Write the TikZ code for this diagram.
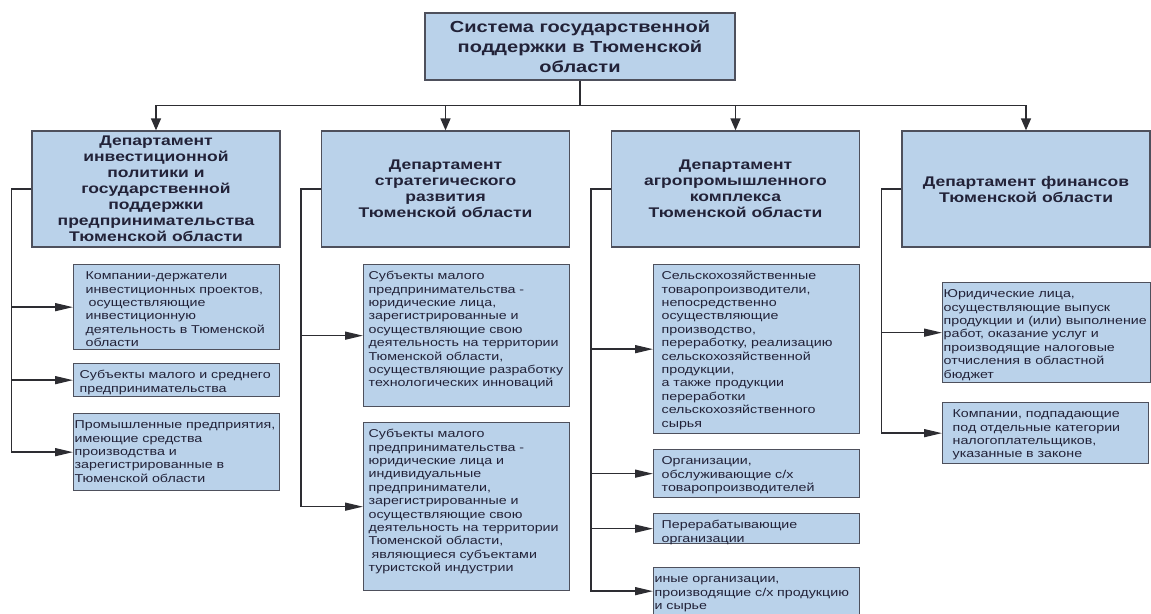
\documentclass[tikz,border=0pt]{standalone}
\usepackage{fontspec}
\setmainfont{Liberation Sans}[FakeStretch=1.25]
\usepackage{tikz}
\usetikzlibrary{arrows.meta}

\definecolor{boxblue}{RGB}{186,210,234}
\definecolor{edgegray}{RGB}{78,80,92}
\definecolor{wiregray}{RGB}{45,45,50}
\definecolor{inkdark}{RGB}{34,34,56}

\begin{document}
\begin{tikzpicture}[
        x=1pt, y=-1pt,
        topbox/.style={draw=edgegray, line width=1.3pt, fill=boxblue, align=center, text=inkdark, minimum width=310pt, minimum height=67pt, font={\fontsize{16}{20}\selectfont\bfseries}},
        deptbox/.style={draw=edgegray, line width=1.3pt, fill=boxblue, align=center, text=inkdark, minimum width=248pt, minimum height=116pt, font={\fontsize{14}{16}\selectfont\bfseries}},
        subbox/.style={draw=edgegray, line width=1.3pt, fill=boxblue, align=left, text=inkdark, anchor=north west, inner xsep=8pt, inner ysep=4pt, text width=190pt, text height=11pt, font={\fontsize{11.4}{13.4}\selectfont}},
        flush/.style={inner xsep=1pt, text width=204pt},
        down/.style={-{Triangle[length=12pt, width=10pt]}, line width=1.4pt, draw=wiregray},
        branch/.style={-{Triangle[length=18pt, width=8pt]}, line width=1.4pt, draw=wiregray}
    ]
    \useasboundingbox (0,0) rectangle (1151,613);

    % Nodes
    \node [topbox] (system) at (580,46.5) {Система государственной\\поддержки в Тюменской\\области};

    \node [deptbox] (invest) at (156,189) {Департамент\\инвестиционной\\политики и\\государственной\\поддержки\\предпринимательства\\Тюменской области};
    \node [deptbox] (strategy) at (445.5,189) {Департамент\\стратегического\\развития\\Тюменской области};
    \node [deptbox] (agro) at (735.5,189) {Департамент\\агропромышленного\\комплекса\\Тюменской области};
    \node [deptbox] (finance) at (1026,189) {Департамент финансов\\Тюменской области};

    % Left column
    \node [subbox, inner xsep=12pt, text width=182pt, text depth=66pt] (inv1) at (73,264) {Компании-держатели\\инвестиционных проектов,\\\hspace*{3pt}осуществляющие\\инвестиционную\\деятельность в Тюменской\\области};
    \node [subbox, inner xsep=6pt, text width=194pt, text depth=14pt] (inv2) at (73,363) {Субъекты малого и среднего\\предпринимательства};
    \node [subbox, flush, text depth=58pt] (inv3) at (73,413) {Промышленные предприятия,\\имеющие средства\\производства и\\зарегистрированные в\\Тюменской области};

    % Second column
    \node [subbox, inner xsep=5pt, text width=196pt, text depth=123pt] (str1) at (363,264) {Субъекты малого\\предпринимательства -\\юридические лица,\\зарегистрированные и\\осуществляющие свою\\деятельность на территории\\Тюменской области,\\осуществляющие разработку\\технологических инноваций};
    \node [subbox, inner xsep=5pt, text width=196pt, text depth=149pt] (str2) at (363,422) {Субъекты малого\\предпринимательства -\\юридические лица и\\индивидуальные\\предприниматели,\\зарегистрированные и\\осуществляющие свою\\деятельность на территории\\Тюменской области,\\\hspace*{3pt}являющиеся субъектами\\туристской индустрии};

    % Third column
    \node [subbox, text depth=150pt] (agr1) at (653,264) {Сельскохозяйственные\\товаропроизводители,\\непосредственно\\осуществляющие\\производство,\\переработку, реализацию\\сельскохозяйственной\\продукции,\\а также продукции\\переработки\\сельскохозяйственного\\сырья};
    \node [subbox, text depth=29pt] (agr2) at (653,449) {Организации,\\обслуживающие с/х\\товаропроизводителей};
    \node [subbox, text depth=11pt] (agr3) at (653,513) {Перерабатывающие\\организации};
    \node [subbox, flush, text depth=28pt] (agr4) at (653,567) {иные организации,\\производящие с/х продукцию\\и сырье};

    % Fourth column
    \node [subbox, flush, text width=206pt, text depth=81pt] (fin1) at (942,282) {Юридические лица,\\осуществляющие выпуск\\продукции и (или) выполнение\\работ, оказание услуг и\\производящие налоговые\\отчисления в областной\\бюджет};
    \node [subbox, inner xsep=10pt, text width=186pt, text depth=42pt] (fin2) at (942,402) {Компании, подпадающие\\под отдельные категории\\налогоплательщиков,\\указанные в законе};

    % Arrows
    \draw[down] (system.south) -- ++(0,25) -| (invest.north);
    \draw[down] (system.south) -- ++(0,25) -| (strategy.north);
    \draw[down] (system.south) -- ++(0,25) -| (agro.north);
    \draw[down] (system.south) -- ++(0,25) -| (finance.north);

    \draw[branch] (invest.west) -- ++(-20,0) |- (inv1.west);
    \draw[branch] (invest.west) -- ++(-20,0) |- (inv2.west);
    \draw[branch] (invest.west) -- ++(-20,0) |- (inv3.west);

    \draw[branch] (strategy.west) -- ++(-20,0) |- (str1.west);
    \draw[branch] (strategy.west) -- ++(-20,0) |- (str2.west);

    \draw[branch] (agro.west) -- ++(-20,0) |- (agr1.west);
    \draw[branch] (agro.west) -- ++(-20,0) |- (agr2.west);
    \draw[branch] (agro.west) -- ++(-20,0) |- (agr3.west);
    \draw[branch] (agro.west) -- ++(-20,0) |- (agr4.west);

    \draw[branch] (finance.west) -- ++(-20,0) |- (fin1.west);
    \draw[branch] (finance.west) -- ++(-20,0) |- (fin2.west);

\end{tikzpicture}
\end{document}
